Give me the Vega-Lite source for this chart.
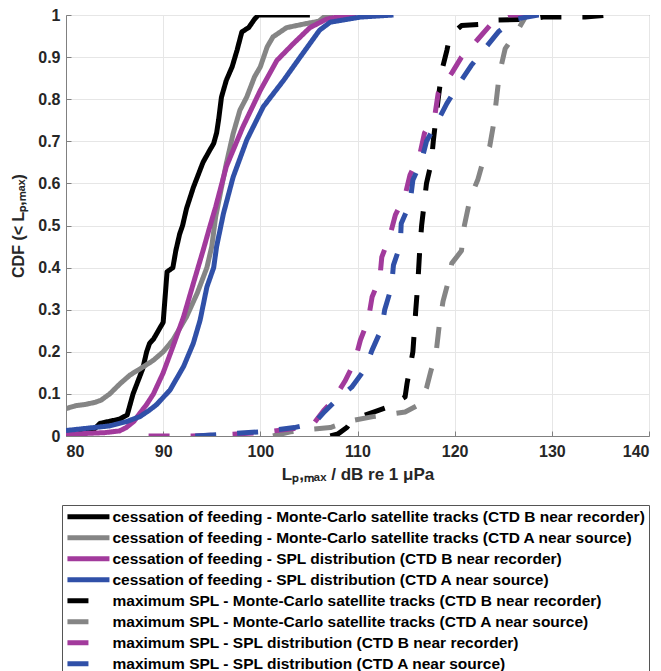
{
  "$schema": "https://vega.github.io/schema/vega-lite/v6.json",
  "width": 583,
  "height": 421,
  "autosize": {"type": "none"},
  "padding": {"left": 66, "top": 15, "right": 12, "bottom": 235},
  "background": "white",
  "datasets": {
    "names": [
      {"s": "A", "name": "cessation of feeding - Monte-Carlo satellite tracks (CTD B near recorder)"},
      {"s": "B", "name": "cessation of feeding - Monte-Carlo satellite tracks (CTD A near source)"},
      {"s": "C", "name": "cessation of feeding - SPL distribution (CTD B near recorder)"},
      {"s": "D", "name": "cessation of feeding - SPL distribution (CTD A near source)"},
      {"s": "E", "name": "maximum SPL - Monte-Carlo satellite tracks (CTD B near recorder)"},
      {"s": "F", "name": "maximum SPL - Monte-Carlo satellite tracks (CTD A near source)"},
      {"s": "G", "name": "maximum SPL - SPL distribution (CTD B near recorder)"},
      {"s": "H", "name": "maximum SPL - SPL distribution (CTD A near source)"}
    ],
    "curves": [
      {"s":"A","x":80,"y":0},{"s":"A","x":81,"y":0.002},{"s":"A","x":81.8,"y":0.01},{"s":"A","x":82.8,"y":0.014},{"s":"A","x":83.5,"y":0.03},{"s":"A","x":84.5,"y":0.035},{"s":"A","x":85.5,"y":0.04},{"s":"A","x":86.3,"y":0.05},{"s":"A","x":86.9,"y":0.1},{"s":"A","x":87.4,"y":0.13},{"s":"A","x":87.9,"y":0.16},{"s":"A","x":88.3,"y":0.2},{"s":"A","x":88.6,"y":0.22},{"s":"A","x":89.0,"y":0.23},{"s":"A","x":89.5,"y":0.25},{"s":"A","x":90.0,"y":0.27},{"s":"A","x":90.2,"y":0.33},{"s":"A","x":90.4,"y":0.39},{"s":"A","x":91.0,"y":0.4},{"s":"A","x":91.3,"y":0.44},{"s":"A","x":91.7,"y":0.48},{"s":"A","x":92.0,"y":0.5},{"s":"A","x":92.4,"y":0.54},{"s":"A","x":93.1,"y":0.59},{"s":"A","x":93.6,"y":0.62},{"s":"A","x":94.1,"y":0.65},{"s":"A","x":94.7,"y":0.675},{"s":"A","x":95.2,"y":0.695},{"s":"A","x":95.5,"y":0.72},{"s":"A","x":95.7,"y":0.75},{"s":"A","x":96.0,"y":0.805},{"s":"A","x":96.5,"y":0.845},{"s":"A","x":97.1,"y":0.877},{"s":"A","x":97.6,"y":0.916},{"s":"A","x":98.1,"y":0.96},{"s":"A","x":98.8,"y":0.97},{"s":"A","x":99.4,"y":0.99},{"s":"A","x":99.8,"y":1.0},{"s":"A","x":105.1,"y":1.0},
      {"s":"B","x":80,"y":0.065},{"s":"B","x":81,"y":0.072},{"s":"B","x":82,"y":0.075},{"s":"B","x":83,"y":0.08},{"s":"B","x":83.6,"y":0.085},{"s":"B","x":84.5,"y":0.1},{"s":"B","x":85.6,"y":0.125},{"s":"B","x":86.6,"y":0.145},{"s":"B","x":88.0,"y":0.165},{"s":"B","x":89.0,"y":0.18},{"s":"B","x":90.0,"y":0.2},{"s":"B","x":91.0,"y":0.228},{"s":"B","x":92.4,"y":0.283},{"s":"B","x":93.5,"y":0.339},{"s":"B","x":94.5,"y":0.4},{"s":"B","x":95.0,"y":0.45},{"s":"B","x":95.4,"y":0.52},{"s":"B","x":96.0,"y":0.59},{"s":"B","x":96.5,"y":0.647},{"s":"B","x":97.2,"y":0.718},{"s":"B","x":97.9,"y":0.774},{"s":"B","x":98.6,"y":0.805},{"s":"B","x":99.4,"y":0.853},{"s":"B","x":100.0,"y":0.877},{"s":"B","x":100.7,"y":0.924},{"s":"B","x":101.3,"y":0.948},{"s":"B","x":102.7,"y":0.97},{"s":"B","x":104.8,"y":0.98},{"s":"B","x":106.0,"y":0.985},{"s":"B","x":106.8,"y":1.0},{"s":"B","x":107.5,"y":1.0},
      {"s":"C","x":80,"y":0.004},{"s":"C","x":82,"y":0.006},{"s":"C","x":84,"y":0.008},{"s":"C","x":85.5,"y":0.012},{"s":"C","x":86.2,"y":0.02},{"s":"C","x":87.0,"y":0.035},{"s":"C","x":87.6,"y":0.054},{"s":"C","x":88.3,"y":0.075},{"s":"C","x":89.0,"y":0.1},{"s":"C","x":90.0,"y":0.15},{"s":"C","x":91.0,"y":0.212},{"s":"C","x":92.1,"y":0.283},{"s":"C","x":93.1,"y":0.362},{"s":"C","x":94.1,"y":0.44},{"s":"C","x":94.8,"y":0.497},{"s":"C","x":95.4,"y":0.544},{"s":"C","x":96.5,"y":0.64},{"s":"C","x":98.2,"y":0.734},{"s":"C","x":100.0,"y":0.821},{"s":"C","x":101.7,"y":0.892},{"s":"C","x":103.4,"y":0.932},{"s":"C","x":105.1,"y":0.97},{"s":"C","x":106.8,"y":0.99},{"s":"C","x":108.5,"y":0.998},{"s":"C","x":109.9,"y":1.0},
      {"s":"D","x":80,"y":0.013},{"s":"D","x":82,"y":0.018},{"s":"D","x":84.5,"y":0.024},{"s":"D","x":86.2,"y":0.034},{"s":"D","x":87.6,"y":0.046},{"s":"D","x":88.5,"y":0.06},{"s":"D","x":89.3,"y":0.074},{"s":"D","x":90.7,"y":0.109},{"s":"D","x":92.1,"y":0.165},{"s":"D","x":93.1,"y":0.22},{"s":"D","x":93.8,"y":0.275},{"s":"D","x":94.5,"y":0.354},{"s":"D","x":95.2,"y":0.4},{"s":"D","x":95.5,"y":0.45},{"s":"D","x":96.2,"y":0.528},{"s":"D","x":97.2,"y":0.615},{"s":"D","x":98.6,"y":0.703},{"s":"D","x":100.3,"y":0.782},{"s":"D","x":102.4,"y":0.845},{"s":"D","x":104.1,"y":0.9},{"s":"D","x":106.1,"y":0.964},{"s":"D","x":107.2,"y":0.983},{"s":"D","x":110.3,"y":0.995},{"s":"D","x":113.7,"y":1.0},
      {"s":"E","x":107.2,"y":0},{"s":"E","x":108.0,"y":0.005},{"s":"E","x":108.9,"y":0.02},{"s":"E","x":109.5,"y":0.04},{"s":"E","x":111.8,"y":0.058},{"s":"E","x":113.3,"y":0.07},{"s":"E","x":114.9,"y":0.093},{"s":"E","x":115.1,"y":0.125},{"s":"E","x":115.7,"y":0.2},{"s":"E","x":116.0,"y":0.3},{"s":"E","x":116.2,"y":0.36},{"s":"E","x":116.4,"y":0.44},{"s":"E","x":116.6,"y":0.5},{"s":"E","x":117.1,"y":0.6},{"s":"E","x":117.6,"y":0.65},{"s":"E","x":117.8,"y":0.7},{"s":"E","x":118.3,"y":0.8},{"s":"E","x":118.7,"y":0.87},{"s":"E","x":119.2,"y":0.916},{"s":"E","x":119.5,"y":0.95},{"s":"E","x":120.7,"y":0.975},{"s":"E","x":122.9,"y":0.978},{"s":"E","x":124.4,"y":0.988},{"s":"E","x":127.8,"y":0.99},{"s":"E","x":129.1,"y":0.995},{"s":"E","x":133.4,"y":0.995},{"s":"E","x":135.9,"y":1.0},
      {"s":"F","x":101.3,"y":0},{"s":"F","x":103.1,"y":0.01},{"s":"F","x":105.1,"y":0.016},{"s":"F","x":107.2,"y":0.02},{"s":"F","x":109.1,"y":0.035},{"s":"F","x":111.6,"y":0.046},{"s":"F","x":112.8,"y":0.05},{"s":"F","x":114.9,"y":0.057},{"s":"F","x":116.3,"y":0.074},{"s":"F","x":117.1,"y":0.114},{"s":"F","x":117.5,"y":0.15},{"s":"F","x":118.1,"y":0.2},{"s":"F","x":118.4,"y":0.26},{"s":"F","x":118.8,"y":0.32},{"s":"F","x":119.3,"y":0.363},{"s":"F","x":119.7,"y":0.41},{"s":"F","x":120.7,"y":0.44},{"s":"F","x":121.0,"y":0.5},{"s":"F","x":121.6,"y":0.565},{"s":"F","x":122.4,"y":0.61},{"s":"F","x":122.8,"y":0.643},{"s":"F","x":123.6,"y":0.687},{"s":"F","x":124.0,"y":0.74},{"s":"F","x":124.3,"y":0.8},{"s":"F","x":124.6,"y":0.86},{"s":"F","x":125.2,"y":0.92},{"s":"F","x":126.5,"y":0.964},{"s":"F","x":127.4,"y":1.0},{"s":"F","x":130,"y":1.0},
      {"s":"G","x":88.5,"y":0},{"s":"G","x":93,"y":0},{"s":"G","x":96,"y":0.003},{"s":"G","x":100,"y":0.008},{"s":"G","x":103.5,"y":0.018},{"s":"G","x":105.5,"y":0.03},{"s":"G","x":106.5,"y":0.06},{"s":"G","x":107.5,"y":0.085},{"s":"G","x":108.7,"y":0.13},{"s":"G","x":109.7,"y":0.176},{"s":"G","x":110.3,"y":0.228},{"s":"G","x":111.1,"y":0.275},{"s":"G","x":111.5,"y":0.33},{"s":"G","x":112.3,"y":0.375},{"s":"G","x":112.5,"y":0.425},{"s":"G","x":113.3,"y":0.473},{"s":"G","x":113.9,"y":0.525},{"s":"G","x":114.9,"y":0.572},{"s":"G","x":115.4,"y":0.62},{"s":"G","x":116.4,"y":0.667},{"s":"G","x":116.9,"y":0.72},{"s":"G","x":118.0,"y":0.767},{"s":"G","x":118.3,"y":0.814},{"s":"G","x":119.7,"y":0.862},{"s":"G","x":120.7,"y":0.9},{"s":"G","x":122.3,"y":0.94},{"s":"G","x":123.8,"y":0.98},{"s":"G","x":125.5,"y":1.0},{"s":"G","x":129,"y":1.0},
      {"s":"H","x":93.3,"y":0},{"s":"H","x":96,"y":0.004},{"s":"H","x":100,"y":0.01},{"s":"H","x":103.5,"y":0.02},{"s":"H","x":105.5,"y":0.03},{"s":"H","x":106.5,"y":0.055},{"s":"H","x":107.8,"y":0.085},{"s":"H","x":109.4,"y":0.116},{"s":"H","x":110.8,"y":0.16},{"s":"H","x":111.5,"y":0.204},{"s":"H","x":112.5,"y":0.256},{"s":"H","x":112.8,"y":0.3},{"s":"H","x":113.5,"y":0.354},{"s":"H","x":113.7,"y":0.406},{"s":"H","x":114.4,"y":0.453},{"s":"H","x":114.5,"y":0.505},{"s":"H","x":115.4,"y":0.553},{"s":"H","x":115.7,"y":0.608},{"s":"H","x":116.6,"y":0.655},{"s":"H","x":117.1,"y":0.7},{"s":"H","x":118.3,"y":0.75},{"s":"H","x":119.2,"y":0.79},{"s":"H","x":120.5,"y":0.838},{"s":"H","x":121.7,"y":0.88},{"s":"H","x":123.1,"y":0.92},{"s":"H","x":124.5,"y":0.96},{"s":"H","x":126.2,"y":0.99},{"s":"H","x":128.6,"y":1.0},{"s":"H","x":130.6,"y":1.0}
    ]
  },
  "data": {"name": "curves"},
  "transform": [
    {"lookup": "s", "from": {"data": {"name": "names"}, "key": "s", "fields": ["name"]}}
  ],
  "mark": {"type": "line", "strokeWidth": 5, "clip": true, "strokeJoin": "round"},
  "encoding": {
    "x": {
      "field": "x", "type": "quantitative",
      "scale": {"domain": [80, 140], "nice": false, "zero": false},
      "axis": {"values": [80, 90, 100, 110, 120, 130, 140], "title": "Lₚ,ₘₐₓ / dB re 1 μPa", "labelPadding": 12, "titlePadding": 7, "titleFontSize": 17}
    },
    "y": {
      "field": "y", "type": "quantitative",
      "scale": {"domain": [0, 1], "nice": false},
      "axis": {"values": [0, 0.1, 0.2, 0.3, 0.4, 0.5, 0.6, 0.7, 0.8, 0.9, 1], "format": ".1~f", "title": "CDF (< Lₚ,ₘₐₓ)", "labelPadding": 11, "titlePadding": 11, "titleFontSize": 16}
    },
    "color": {
      "field": "name", "type": "nominal", "title": null,
      "scale": {
        "domain": [
          "cessation of feeding - Monte-Carlo satellite tracks (CTD B near recorder)",
          "cessation of feeding - Monte-Carlo satellite tracks (CTD A near source)",
          "cessation of feeding - SPL distribution (CTD B near recorder)",
          "cessation of feeding - SPL distribution (CTD A near source)",
          "maximum SPL - Monte-Carlo satellite tracks (CTD B near recorder)",
          "maximum SPL - Monte-Carlo satellite tracks (CTD A near source)",
          "maximum SPL - SPL distribution (CTD B near recorder)",
          "maximum SPL - SPL distribution (CTD A near source)"
        ],
        "range": ["#000000", "#858585", "#a23a9c", "#3050a8", "#000000", "#858585", "#a23a9c", "#3050a8"]
      }
    },
    "strokeDash": {
      "field": "name", "type": "nominal", "title": null,
      "scale": {
        "domain": [
          "cessation of feeding - Monte-Carlo satellite tracks (CTD B near recorder)",
          "cessation of feeding - Monte-Carlo satellite tracks (CTD A near source)",
          "cessation of feeding - SPL distribution (CTD B near recorder)",
          "cessation of feeding - SPL distribution (CTD A near source)",
          "maximum SPL - Monte-Carlo satellite tracks (CTD B near recorder)",
          "maximum SPL - Monte-Carlo satellite tracks (CTD A near source)",
          "maximum SPL - SPL distribution (CTD B near recorder)",
          "maximum SPL - SPL distribution (CTD A near source)"
        ],
        "range": [[1, 0], [1, 0], [1, 0], [1, 0], [21, 21], [21, 21], [21, 21], [21, 21]]
      }
    }
  },
  "config": {
    "font": "Liberation Sans",
    "view": {"stroke": "#808080", "strokeWidth": 1},
    "axis": {
      "labelFont": "Liberation Sans", "labelFontWeight": "bold", "labelFontSize": 16, "labelColor": "#262626",
      "titleFont": "Liberation Sans", "titleFontWeight": "bold", "titleFontSize": 16, "titleColor": "#262626",
      "gridColor": "#e6e6e6", "gridWidth": 1, "domainColor": "#808080", "tickSize": -5, "tickColor": "#808080"
    },
    "legend": {
      "orient": "none", "legendX": -4, "legendY": 490, "direction": "vertical",
      "symbolType": "M-1.5,0H8.5", "symbolSize": 70.56, "symbolStrokeWidth": 5,
      "labelFont": "Liberation Sans", "labelFontWeight": "bold", "labelFontSize": 15.5, "labelColor": "#000000",
      "labelOffset": 31, "labelLimit": 700, "rowPadding": 0,
      "strokeColor": "#555555", "fillColor": "white", "padding": 4
    }
  }
}
